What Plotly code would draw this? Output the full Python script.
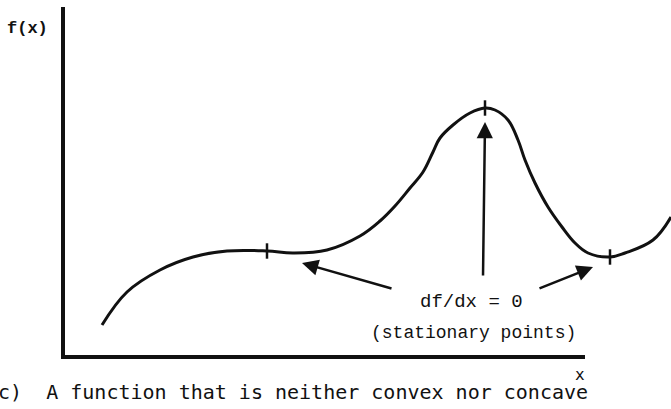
import plotly.graph_objects as go

# Sketch of f(x): rises, flattens (inflection-like stationary point), peaks, dips, rises again
curve_x = [3.9, 6.4, 9.7, 13.0, 16.4, 20.4, 23.0, 26.4, 29.7, 31.7, 33.2, 34.7, 36.0, 37.0,
           37.7, 39.0, 40.7, 42.2, 43.2, 44.5, 45.5, 46.2, 47.2, 48.5, 49.9, 51.2, 52.5,
           54.7, 56.2, 59.0, 60.8]
curve_y = [3.2, 6.5, 8.7, 10.0, 10.6, 10.6, 10.4, 10.7, 12.1, 13.6, 15.1, 16.9, 18.5, 20.5,
           21.9, 23.2, 24.4, 24.9, 24.7, 23.7, 21.7, 19.7, 17.4, 15.0, 13.0, 11.4, 10.4,
           10.0, 10.4, 11.7, 14.0]

# Stationary points (df/dx = 0), marked with a short tick on the curve
stat_x = [20.4, 42.2, 54.7]
stat_y = [10.6, 24.9, 10.0]

# Axis extents
x_axis_end = 52.2
y_axis_top = 35.0

# Arrows from the label towards the stationary points: (tail_x, tail_y, head_x, head_y)
arrows = [
    (33.0, 6.8, 23.9, 9.4),
    (42.0, 8.0, 42.2, 23.5),
    (47.5, 6.8, 53.0, 9.0),
]

label_eq = "df/dx = 0"
label_note = "(stationary points)"
label_fx = "f(x)"
label_x = "x"
caption = "(c)  A function that is neither convex nor concave"

INK = "#111111"
TYPE = "Liberation Mono, Courier New, monospace"
SANS_MONO = "DejaVu Sans Mono, monospace"

fig = go.Figure()

# Axes drawn as an L-shaped line
fig.add_trace(go.Scatter(
    x=[0, 0, x_axis_end], y=[y_axis_top, 0, 0], mode="lines",
    line=dict(color=INK, width=4), hoverinfo="skip"))

# The function
fig.add_trace(go.Scatter(
    x=curve_x, y=curve_y, mode="lines",
    line=dict(color=INK, width=3, shape="spline", smoothing=1.1), hoverinfo="skip"))

# Tick marks at the stationary points
fig.add_trace(go.Scatter(
    x=stat_x, y=stat_y, mode="markers",
    marker=dict(symbol="line-ns", size=11, line=dict(color=INK, width=2.5)),
    hoverinfo="skip"))

for tx, ty, hx, hy in arrows:
    fig.add_annotation(x=hx, y=hy, ax=tx, ay=ty, xref="x", yref="y", axref="x", ayref="y",
                       text="", showarrow=True, arrowhead=2, arrowsize=1.3,
                       arrowwidth=2.5, arrowcolor=INK, standoff=0, startstandoff=0)

fig.add_annotation(x=40.8, y=5.5, text=label_eq, showarrow=False,
                   font=dict(family=TYPE, size=19, color=INK))
fig.add_annotation(x=41.0, y=2.4, text=label_note, showarrow=False,
                   font=dict(family=TYPE, size=18, color=INK))
fig.add_annotation(x=-3.6, y=32.9, text="<b>" + label_fx + "</b>", showarrow=False,
                   font=dict(family=TYPE, size=17, color=INK))
fig.add_annotation(x=51.7, y=-1.7, text=label_x, showarrow=False,
                   font=dict(family=SANS_MONO, size=16, color=INK))
fig.add_annotation(x=-16 / 671, y=1 - 392 / 409, xref="paper", yref="paper",
                   xanchor="left", yanchor="middle",
                   text=caption, showarrow=False,
                   font=dict(family=SANS_MONO, size=20, color=INK))

fig.update_layout(
    width=671, height=409,
    margin=dict(l=0, r=0, t=0, b=0),
    paper_bgcolor="white", plot_bgcolor="white",
    showlegend=False,
    xaxis=dict(range=[-6.3, 60.8], visible=False, fixedrange=True),
    yaxis=dict(range=[-5.2, 35.7], visible=False, fixedrange=True),
)

fig.write_html("out.html")
